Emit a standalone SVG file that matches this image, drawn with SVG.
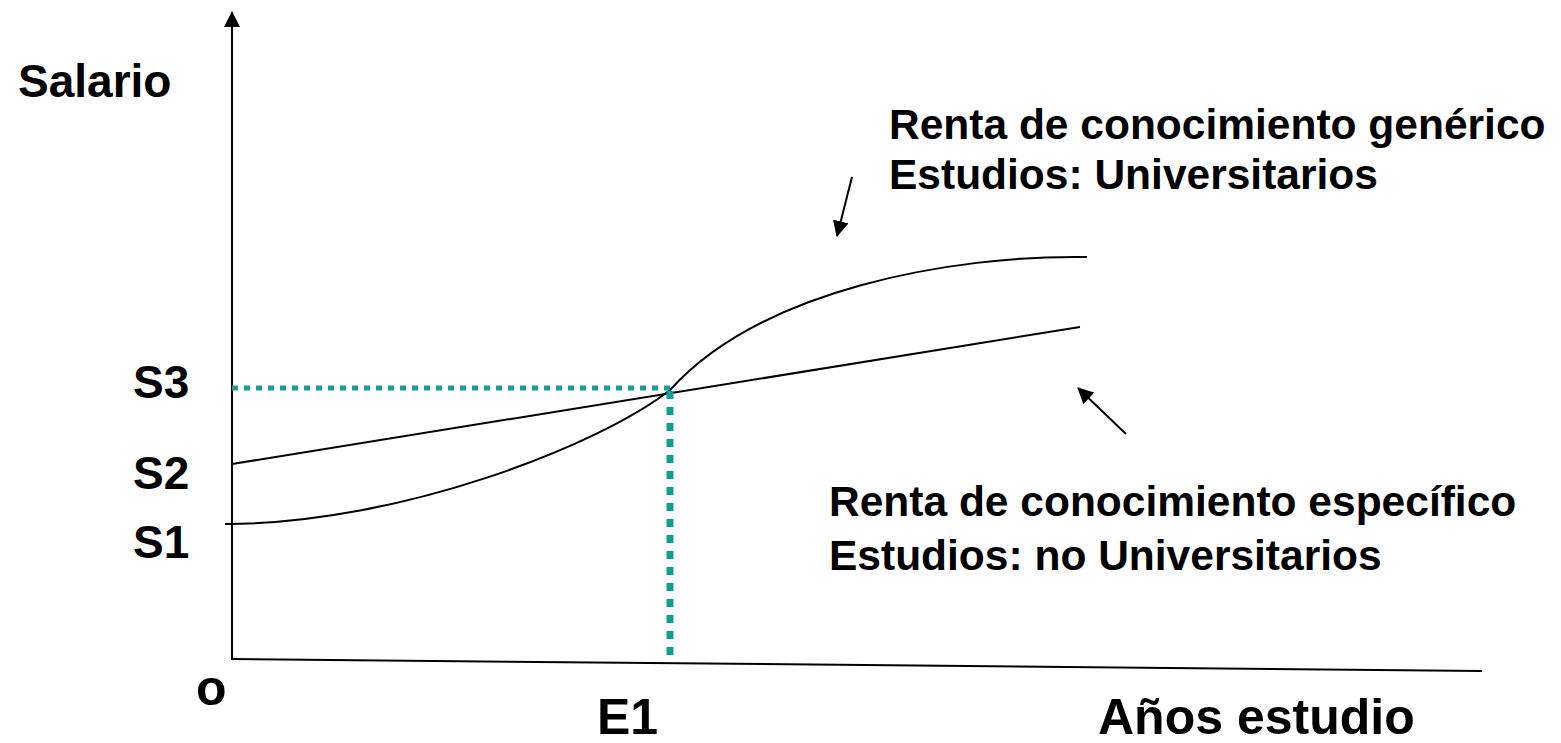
<svg xmlns="http://www.w3.org/2000/svg" width="1561" height="743" viewBox="0 0 1561 743">
<style>
text{font-family:"Liberation Sans",Arial,sans-serif;font-weight:bold;fill:#000}
.lbl{font-size:42.5px}
.ax{font-size:46px}
.big{font-size:50px}
.ln{fill:none;stroke:#000;stroke-width:2}
.dot{fill:none;stroke:#129e9a}
</style>
<defs>
<marker id="ahBig" markerWidth="16" markerHeight="16" refX="15" refY="8" orient="auto" markerUnits="userSpaceOnUse" viewBox="0 0 16 16">
<path d="M0,0 L16,8 L0,16 z" fill="#000"/>
</marker>
</defs>
<rect width="1561" height="743" fill="#fff"/>
<g id="connectors">
<line class="ln" x1="232" y1="660" x2="232" y2="12" marker-end="url(#ahBig)"/>
<line class="ln" x1="232" y1="659" x2="1482" y2="671"/>
<path id="curve-generico" class="ln" d="M225,524 C400,524 600,445 670,390 C760,290 950,255 1087,257" stroke-width="1.6"/>
<line id="line-especifico" class="ln" x1="232" y1="464" x2="1080" y2="327" stroke-width="1.6"/>
<line class="dot" x1="232" y1="388" x2="670" y2="388" stroke-width="5" stroke-dasharray="6 6"/>
<line class="dot" x1="670" y1="655" x2="670" y2="385" stroke-width="7" stroke-dasharray="8 8"/>
<line class="ln" x1="852" y1="177" x2="837" y2="236" marker-end="url(#ahBig)"/>
<line class="ln" x1="1126" y1="434" x2="1078" y2="388" marker-end="url(#ahBig)"/>
</g>
<g id="label-salario"><text class="ax" x="18" y="97">Salario</text></g>
<g id="label-generico"><text class="lbl" x="889" y="139">Renta de conocimiento genérico</text><text class="lbl" x="889" y="189">Estudios: Universitarios</text></g>
<g id="label-especifico"><text class="lbl" x="829" y="516">Renta de conocimiento específico</text><text class="lbl" x="829" y="570">Estudios: no Universitarios</text></g>
<g id="label-s3"><text class="ax" x="133" y="398">S3</text></g>
<g id="label-s2"><text class="ax" x="133" y="489">S2</text></g>
<g id="label-s1"><text class="ax" x="133" y="558">S1</text></g>
<g id="label-o"><text class="big" x="196" y="705">o</text></g>
<g id="label-e1"><text class="big" x="597" y="734">E1</text></g>
<g id="label-anos"><text class="big" x="1098" y="734">Años estudio</text></g>
</svg>
